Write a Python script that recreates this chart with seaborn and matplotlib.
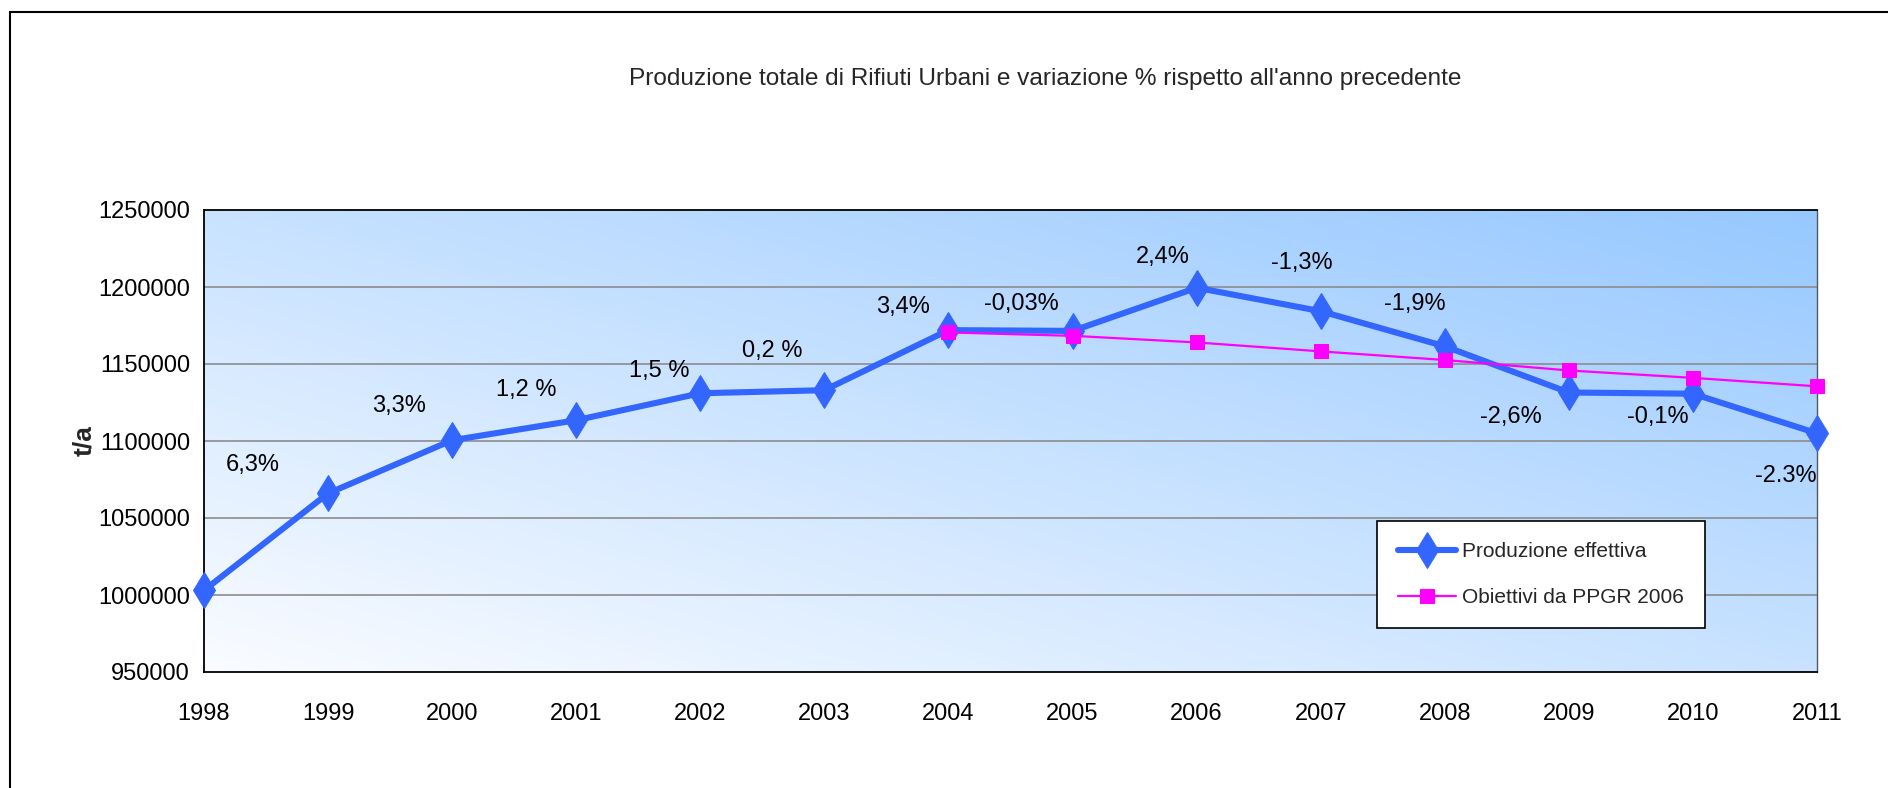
import numpy as np
import pandas as pd
import matplotlib
matplotlib.use("Agg")
import matplotlib.pyplot as plt
import seaborn as sns
from matplotlib.ticker import FuncFormatter, FixedLocator

# ---------------- data ----------------
years = [1998, 1999, 2000, 2001, 2002, 2003, 2004, 2005, 2006, 2007, 2008, 2009, 2010, 2011]
produzione = [1003000, 1066000, 1100500, 1113500, 1131000, 1133000, 1172000,
              1171500, 1199500, 1184300, 1161500, 1131500, 1130700, 1105000]
target_years = [2004, 2005, 2006, 2007, 2008, 2009, 2010, 2011]
obiettivi = [1170500, 1168300, 1164000, 1158200, 1152600, 1145800, 1141000, 1135500]
var_labels = ["6,3%", "3,3%", "1,2 %", "1,5 %", "0,2 %", "3,4%", "-0,03%",
              "2,4%", "-1,3%", "-1,9%", "-2,6%", "-0,1%", "-2.3%"]
y_ticks = [950000, 1000000, 1050000, 1100000, 1150000, 1200000, 1250000]
title = "Produzione totale di Rifiuti Urbani e variazione % rispetto all'anno precedente"
series_names = ["Produzione effettiva", "Obiettivi da PPGR 2006"]

# ---------------- layout (label positions in data coords) ----------------
label_pos = [(1998.39, 1084400), (1999.57, 1122700), (2000.60, 1133100),
             (2001.67, 1145450), (2002.58, 1158400), (2003.63, 1187000),
             (2004.59, 1188950), (2005.73, 1219500), (2006.85, 1215600),
             (2007.76, 1188950), (2008.53, 1115600), (2009.72, 1115600),
             (2010.75, 1077300)]

sns.set_theme(style="white")
FONT = ["Liberation Sans Narrow", "Liberation Sans", "DejaVu Sans"]
plt.rcParams["font.family"] = FONT

W, H = 1888, 788
fig = plt.figure(figsize=(W / 100, H / 100), dpi=100)
fig.patch.set_facecolor("white")

# outer frame (left and top edges visible)
fig.add_artist(plt.Line2D([10 / W, 10 / W], [0, 1 - 12 / H], transform=fig.transFigure,
                          color="black", lw=1.5))
fig.add_artist(plt.Line2D([10 / W, 1], [1 - 12 / H, 1 - 12 / H], transform=fig.transFigure,
                          color="black", lw=1.5))

left, right, top, bottom = 204 / W, 1817 / W, 1 - 210 / H, 1 - 672 / H
ax = fig.add_axes([left, bottom, right - left, top - bottom])

# gradient background
n = 300
u = np.linspace(0, 1, n)
v = np.linspace(0, 1, n)
U, V = np.meshgrid(u, v)
t = (U + V) / 2.0
c0 = np.array([250, 252, 255]) / 255.0
c1 = np.array([150, 200, 255]) / 255.0
img = c0[None, None, :] * (1 - t[..., None]) + c1[None, None, :] * t[..., None]
ax.imshow(img, extent=[0, 1, 0, 1], transform=ax.transAxes, origin="lower",
          aspect="auto", zorder=0, interpolation="bilinear")

df_p = pd.DataFrame({"anno": years, "t/a": produzione})
df_o = pd.DataFrame({"anno": target_years, "t/a": obiettivi})

for yt in y_ticks[1:-1]:
    ax.axhline(yt, color="#8c8c8c", lw=1.2, zorder=1)

sns.lineplot(data=df_p, x="anno", y="t/a", ax=ax, color="#3366FF", lw=4.4,
             marker="d", markersize=18, markeredgecolor="#3366FF",
             label=series_names[0], zorder=4, clip_on=False)
sns.lineplot(data=df_o, x="anno", y="t/a", ax=ax, color="#FF00FF", lw=1.6,
             marker="s", markersize=10, markeredgecolor="#FF00FF",
             label=series_names[1], zorder=5, clip_on=False)

ax.set_xlim(1998, 2011)
ax.set_ylim(950000, 1250000)
ax.set_xticks(years)
ax.set_xticklabels([str(y) for y in years])
ax.yaxis.set_major_locator(FixedLocator(y_ticks))
ax.yaxis.set_major_formatter(FuncFormatter(lambda x, p: f"{int(x)}"))
ax.tick_params(axis="both", labelsize=17, colors="black", length=7, width=1.2,
               direction="out")
ax.tick_params(axis="y", pad=3)
ax.tick_params(axis="x", pad=15.5)
ax.set_xlabel("")
ax.set_ylabel("t/a", fontsize=19, fontweight="bold",
              family=["Liberation Sans", "DejaVu Sans"])
ax.yaxis.set_label_coords((96 - 204) / (1817 - 204), 0.5)

for name, sp in ax.spines.items():
    sp.set_visible(True)
    sp.set_color("black")
    sp.set_linewidth(1.3)
ax.spines["right"].set_color("#505a66")
ax.spines["right"].set_linewidth(1.0)

for lab, (lx, ly) in zip(var_labels, label_pos):
    ax.text(lx, ly, lab, fontsize=17, ha="center", va="center", color="black", zorder=6)

fig.text(1045 / W, 1 - 79 / H, title, fontsize=17.6, ha="center", va="center")

leg = ax.legend(loc="upper left", bbox_to_anchor=((1377 - 204) / (1817 - 204), (672 - 521) / (672 - 210)),
                frameon=True, fancybox=False, fontsize=15, borderpad=1.0, labelspacing=1.3,
                handlelength=2.8, handletextpad=0.3, borderaxespad=0)
leg.get_frame().set_edgecolor("black")
leg.get_frame().set_linewidth(1.2)
leg.get_frame().set_facecolor("white")
leg.get_frame().set_alpha(1)
leg.set_zorder(10)

fig.savefig("out.png", dpi=100)
